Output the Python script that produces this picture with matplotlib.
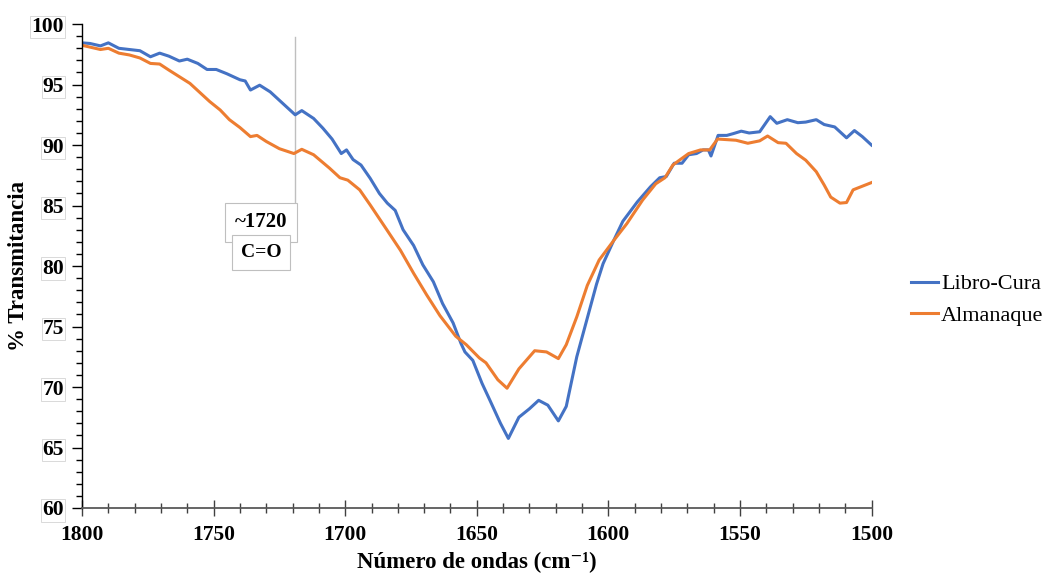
import matplotlib.pyplot as plt
from matplotlib.ticker import MultipleLocator

# wavenumber (cm-1) and % transmittance
libro_w = [1800, 1797, 1793, 1790, 1786, 1782, 1778, 1774, 1770.5, 1767, 1763, 1760, 1756,
           1752.5, 1749, 1745, 1740, 1738, 1736, 1732.5, 1728.5, 1725, 1719, 1716.5, 1712,
           1708.5, 1705, 1701.5, 1699.5, 1697, 1694, 1690.5, 1687, 1684, 1681, 1678, 1674,
           1670.5, 1666.5, 1663, 1659, 1656, 1654.5, 1651.5, 1648, 1645, 1641, 1638, 1634,
           1630, 1626.5, 1623, 1619, 1616, 1612, 1608, 1604.5, 1602, 1598, 1594.5, 1589,
           1584, 1580.5, 1578, 1575, 1572, 1569.5, 1566.5, 1564, 1562, 1561, 1558.3, 1555,
           1552.5, 1549.5, 1546.5, 1542.5, 1538.5, 1536, 1532, 1528, 1525, 1521, 1518, 1514,
           1509.5, 1506.5, 1503.5, 1500]
libro_t = [98.45, 98.4, 98.2, 98.45, 98.0, 97.9, 97.8, 97.3, 97.6, 97.35, 96.95, 97.1, 96.75,
           96.25, 96.25, 95.9, 95.4, 95.3, 94.55, 94.95, 94.4, 93.7, 92.5, 92.85, 92.2,
           91.4, 90.5, 89.3, 89.6, 88.8, 88.35, 87.25, 86.0, 85.2, 84.6, 83.0, 81.7,
           80.1, 78.7, 76.9, 75.3, 73.6, 72.9, 72.2, 70.3, 68.9, 67.0, 65.75, 67.5,
           68.2, 68.9, 68.5, 67.2, 68.4, 72.5, 75.7, 78.5, 80.2, 82.1, 83.7, 85.3,
           86.55, 87.3, 87.4, 88.5, 88.5, 89.2, 89.3, 89.6, 89.6, 89.1, 90.8, 90.8,
           90.95, 91.15, 91.0, 91.1, 92.35, 91.8, 92.1, 91.85, 91.9, 92.1, 91.7, 91.5,
           90.6, 91.2, 90.7, 90.0]

alman_w = [1800, 1797, 1793, 1790, 1786, 1782, 1778, 1774, 1770.5, 1767, 1763, 1759, 1755,
           1751.5, 1747.5, 1744, 1740, 1736, 1733.5, 1730, 1725, 1719.5, 1716.5, 1712, 1706,
           1702, 1699, 1694.5, 1690.5, 1684.5, 1679, 1674, 1669, 1664, 1658, 1654, 1649,
           1646.5, 1642, 1638.5, 1634, 1628, 1623.5, 1619, 1616, 1612, 1608, 1603.5, 1598,
           1593, 1587, 1582, 1578.5, 1575.5, 1573, 1569.5, 1565, 1561.5, 1558.5, 1555,
           1551.5, 1547, 1542.5, 1539.5, 1535.5, 1532.5, 1528.5, 1525, 1521, 1518, 1515.5,
           1512, 1509.5, 1507, 1503.5, 1500]
alman_t = [98.25, 98.1, 97.9, 98.0, 97.6, 97.45, 97.2, 96.75, 96.7, 96.2, 95.65, 95.1, 94.3,
           93.6, 92.9, 92.1, 91.45, 90.7, 90.8, 90.3, 89.7, 89.3, 89.65, 89.2, 88.1,
           87.3, 87.1, 86.3, 85.05, 83.1, 81.3, 79.4, 77.6, 75.9, 74.2, 73.5, 72.4,
           72.0, 70.6, 69.9, 71.5, 73.0, 72.9, 72.35, 73.5, 75.8, 78.4, 80.5, 82.1,
           83.5, 85.45, 86.8, 87.3, 88.35, 88.75, 89.3, 89.6, 89.6, 90.5, 90.45,
           90.4, 90.15, 90.35, 90.75, 90.2, 90.15, 89.3, 88.75, 87.8, 86.7, 85.7,
           85.2, 85.25, 86.3, 86.6, 86.9]

plt.rcParams["font.family"] = ["Liberation Serif", "DejaVu Serif"]

fig, ax = plt.subplots(figsize=(10.45, 5.74), dpi=100)
fig.subplots_adjust(left=0.0785, right=0.834, bottom=0.115, top=0.958)

ax.plot(libro_w, libro_t, color="#4472C4", lw=2.2, label="Libro-Cura")
ax.plot(alman_w, alman_t, color="#ED7D31", lw=2.2, label="Almanaque")

# C=O marker
ax.plot([1719, 1719], [85.0, 98.9], color="#BFBFBF", lw=1.0, zorder=1)
box = dict(boxstyle="square,pad=0.45", fc="white", ec="#BFBFBF", lw=0.8)
ax.text(1732, 83.6, "~1720", ha="center", va="center", fontsize=15, fontweight="bold", bbox=box)
ax.text(1732, 81.1, "C=O", ha="center", va="center", fontsize=14, fontweight="bold", bbox=box)

ax.set_xlim(1800, 1500)
ax.set_ylim(60, 100)
ax.xaxis.set_major_locator(MultipleLocator(50))
ax.xaxis.set_minor_locator(MultipleLocator(10))
ax.yaxis.set_major_locator(MultipleLocator(5))
ax.yaxis.set_minor_locator(MultipleLocator(1))

ax.spines["top"].set_visible(False)
ax.spines["right"].set_visible(False)
ax.spines["bottom"].set_color("#595959")
ax.spines["bottom"].set_linewidth(1.3)
ax.spines["left"].set_linewidth(1.0)

ax.tick_params(axis="x", which="major", direction="inout", length=12, width=1.0, color="#404040")
ax.tick_params(axis="x", which="minor", direction="inout", length=7, width=1.0, color="#404040")
ax.tick_params(axis="y", which="major", direction="out", length=7, width=1.0)
ax.tick_params(axis="y", which="minor", direction="out", length=4, width=1.0)
ax.tick_params(axis="both", labelsize=15.5, pad=6)

for lab in ax.get_xticklabels() + ax.get_yticklabels():
    lab.set_fontweight("bold")
for lab in ax.get_yticklabels():
    lab.set_bbox(dict(boxstyle="square,pad=0.05", fc="white", ec="#D9D9D9", lw=0.7))

ax.set_xlabel("Número de ondas (cm⁻¹)", fontsize=16.5, fontweight="bold", labelpad=5)
ax.set_ylabel("% Transmitancia", fontsize=16.5, fontweight="bold", labelpad=2)

ax.legend(loc="center left", bbox_to_anchor=(1.025, 0.43), frameon=False, fontsize=16,
          handlelength=1.2, handletextpad=0.15, labelspacing=0.5)

plt.savefig("out.png", dpi=100)
